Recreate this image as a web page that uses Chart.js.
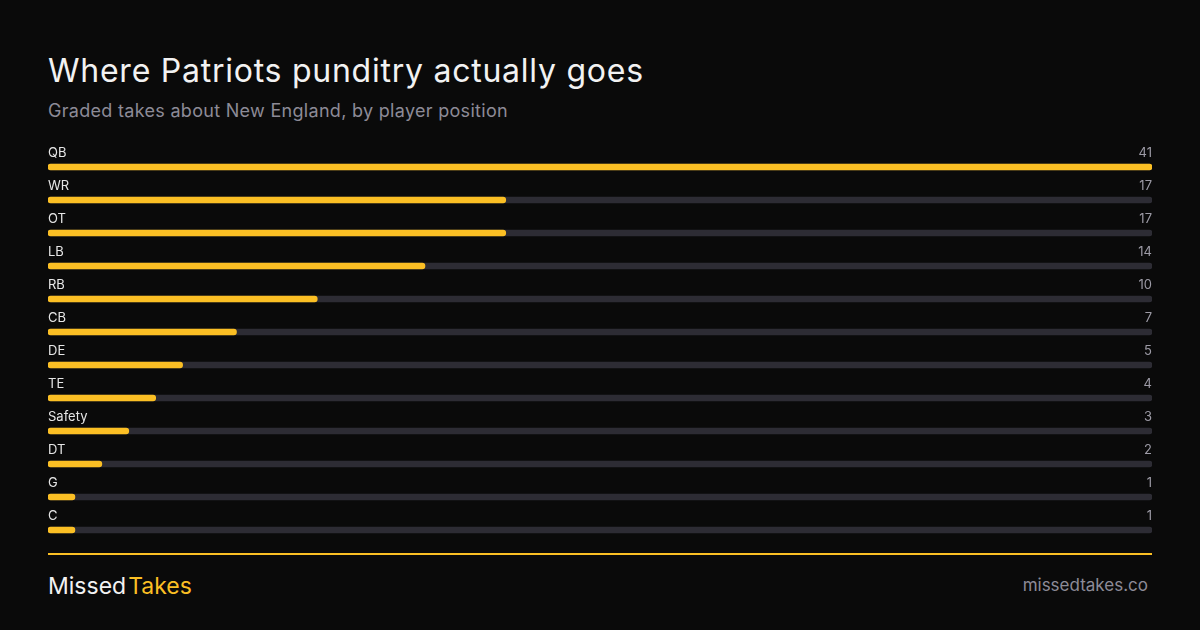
<!DOCTYPE html>
<html>
<head>
<meta charset="utf-8">
<script src="https://cdn.jsdelivr.net/npm/chart.js@4"></script>
<style>
  html, body { margin: 0; padding: 0; background: #0a0a0a; }
  body { width: 1200px; height: 630px; position: relative; overflow: hidden; font-family: Inter, "Noto Sans", sans-serif; }
  h1 { position: absolute; left: 48px; top: 51px; margin: 0; font-size: 32px; font-weight: 400; color: #f2f2f2; letter-spacing: 0.75px; }
  .sub { position: absolute; left: 48px; top: 100px; font-size: 18px; color: #8d8b97; letter-spacing: 0.3px; }
  #wrap { position: absolute; left: 48px; top: 130px; width: 1104px; height: 420px; }
  .rule { position: absolute; left: 48px; top: 553px; width: 1104px; height: 2px; background: #fbbf24; }
  .brand { position: absolute; left: 48px; top: 572px; font-size: 23px; color: #f2f2f2; }
  .brand span { color: #fbbf24; margin-left: 2px; }
  .site { position: absolute; right: 52px; top: 575px; font-size: 17px; color: #8d8b97; }
</style>
</head>
<body>
<h1>Where Patriots punditry actually goes</h1>
<div class="sub">Graded takes about New England, by player position</div>
<div id="wrap"><canvas id="chart" width="1104" height="420"></canvas></div>
<div class="rule"></div>
<div class="brand">Missed<span>Takes</span></div>
<div class="site">missedtakes.co</div>

<script>
// posiciones y número de tomas calificadas
const positions = ["QB", "WR", "OT", "LB", "RB", "CB", "DE", "TE", "Safety", "DT", "G", "C"];
const takes = [41, 17, 17, 14, 10, 7, 5, 4, 3, 2, 1, 1];
const maxTakes = 41;
const track = positions.map(() => maxTakes);

// dibuja el nombre arriba a la izquierda y el número a la derecha de cada barra
const rowLabels = {
  id: "rowLabels",
  afterDatasetsDraw(chart) {
    const { ctx, chartArea } = chart;
    const meta = chart.getDatasetMeta(1);
    ctx.save();
    ctx.font = "13px Inter, 'Noto Sans', sans-serif";
    ctx.textBaseline = "middle";
    meta.data.forEach((bar, i) => {
      const y = bar.y - 14;
      ctx.fillStyle = "#e6e6e6";
      ctx.textAlign = "left";
      ctx.fillText(positions[i], chartArea.left, y);
      ctx.fillStyle = "#9d9ba6";
      ctx.textAlign = "right";
      ctx.fillText(String(takes[i]), chartArea.right, y);
    });
    ctx.restore();
  }
};

new Chart(document.getElementById("chart"), {
  type: "bar",
  data: {
    labels: positions,
    datasets: [
      {
        data: takes,
        backgroundColor: "#fbbf24",
        barThickness: 6,
        borderRadius: 3,
        borderSkipped: false,
        grouped: false,
        order: 0
      },
      {
        data: track,
        backgroundColor: "#2d2c34",
        barThickness: 6,
        borderRadius: 3,
        borderSkipped: false,
        grouped: false,
        order: 1
      }
    ]
  },
  options: {
    indexAxis: "y",
    responsive: false,
    animation: false,
    devicePixelRatio: 1,
    layout: { padding: { top: 20.5, bottom: 3.5, left: 0, right: 0 } },
    plugins: { legend: { display: false }, tooltip: { enabled: false } },
    scales: {
      x: { display: false, min: 0, max: maxTakes },
      y: { display: false }
    }
  },
  plugins: [rowLabels]
});
</script>
</body>
</html>
